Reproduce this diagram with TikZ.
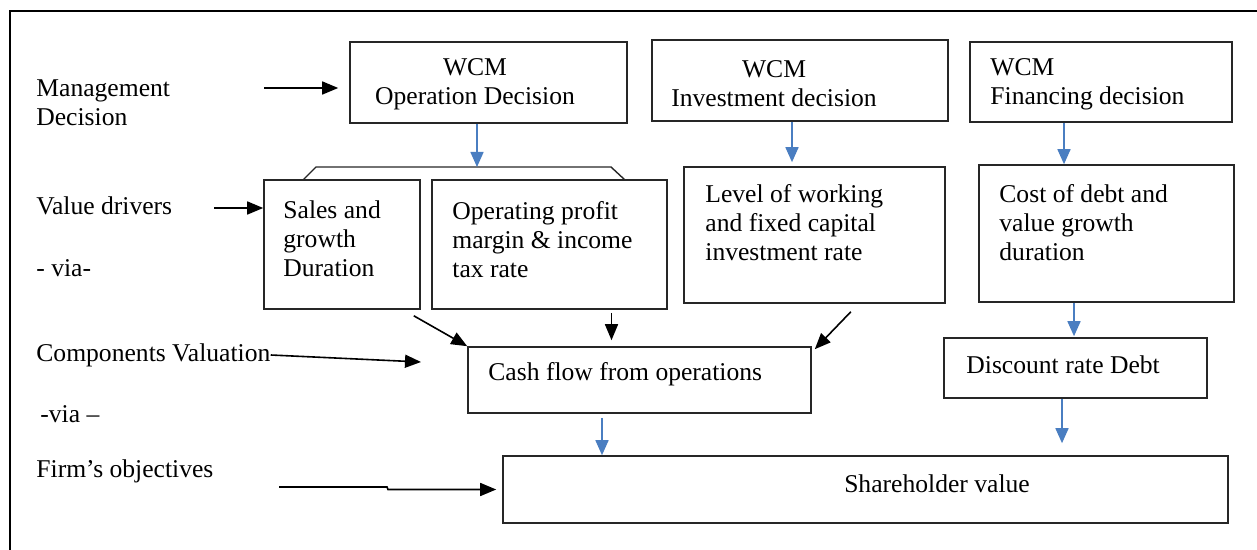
\documentclass[tikz,border=0pt]{standalone}
\usepackage{fontspec}
\setmainfont{Liberation Serif}
\usetikzlibrary{arrows.meta, calc, fit, positioning}

\definecolor{arrblue}{RGB}{74,126,193}

\begin{document}
\begin{tikzpicture}[
		x=0.5pt, y=-0.5pt,
		font=\fontsize{12.8}{14.5}\selectfont,
		frame/.style ={line width=1.4pt},
		blk/.style ={
			rectangle,	draw=black!85,	line width=0.8pt,	inner sep=0pt
		},
		txt/.style ={inner sep=0pt,	anchor=west,	align=left},
		ctxt/.style={inner sep=0pt,	align=center},
		arr/.style ={-{Triangle[length=8pt,width=6.5pt]},	line width=0.8pt},
		blarr/.style={-{Triangle[length=7.5pt,width=6.5pt]},	draw=arrblue,	line width=0.8pt},
		brk/.style ={draw=black!85,	line width=0.7pt},
	]

	\useasboundingbox (0,0) rectangle (1257,550);
	\draw [frame] (10,550) -- (10,11) -- (1257,11);

	% left column
	\node (mgmtT)  at (36,103) [txt] {Management\\Decision};
	\node (valT)   at (36,206) [txt] {Value drivers};
	\node (via1T)  at (36,268) [txt] {- via-};
	\node (compT)  at (36,355) [txt] {Components Valuation};
	\node (via2T)  at (40,414) [txt] {-via --};
	\node (firmT)  at (36,471) [txt] {Firm’s objectives};

	% boxes
	\node (opdec)     [blk, fit={(350,42) (627,123)}] {};
	\node (invdec)    [blk, fit={(652,40) (948,121)}] {};
	\node (findec)    [blk, fit={(970,42) (1232,122)}] {};
	\node (sales)     [blk, fit={(264,180) (420,309)}] {};
	\node (opprof)    [blk, fit={(432,180) (667,309)}] {};
	\node (level)     [blk, fit={(684,167) (945,303)}] {};
	\node (cost)      [blk, fit={(979,165) (1234,302)}] {};
	\node (cash)      [blk, fit={(468,347) (811,413)}] {};
	\node (disc)      [blk, fit={(944,338) (1207,398)}] {};
	\node (sharehold) [blk, fit={(503,456) (1228,523)}] {};

	% box texts
	\node (opdecT)  at (475,84)  [ctxt] {WCM\\Operation Decision};
	\node (invdecT) at (774,84)  [ctxt] {WCM\\Investment decision};
	\node (findecT) at (990,84)  [txt]  {WCM\\Financing decision};
	\node (salesT)  at (283,239) [txt]  {Sales and\\growth\\Duration};
	\node (opprofT) at (452,240) [txt]  {Operating profit\\margin \& income\\tax rate};
	\node (levelT)  at (705,223) [txt]  {Level of working\\and fixed capital\\investment rate};
	\node (costT)   at (999,223) [txt]  {Cost of debt and\\value growth\\duration};
	\node (cashT)   at (488,374) [txt]  {Cash flow from operations};
	\node (discT)   at (966,365) [txt]  {Discount rate Debt};
	\node (shareT)  at (937,484) [ctxt] {Shareholder value};

	% bracket over the value drivers
	\coordinate (brtop) at (477,167);
	\draw [brk] (303,180) -- (316,167) -- (611,167) -- (625,180);

	% black interconnections
	\coordinate (mgmtA) at (264,88);
	\draw [arr] (mgmtA) -- ($(opdec.west |- mgmtA)+(-11,0)$);
	\coordinate (valA) at (214,208);
	\draw [arr] (valA) -- (sales.west |- valA);
	\coordinate (compA) at (421,362);
	\draw [arr] (compT.east) -- (compA);
	\coordinate (firmA) at (279,487);
	\draw [arr] (firmA) -- ++(108,0) -- ++(1,2.5) -- ($(sharehold.west)+(-6,0)$);

	\draw [arr] ($(sales.south east)+(-7,6)$) -- (cash.north west);
	\draw [arr] ($(opprof.south)+(62,3)$) -- ($(cash.north)+(-28,-6)$);
	\draw [arr] ($(level.south east)+(-95,8)$) -- ($(cash.north east)+(3,3)$);

	% blue interconnections
	\draw [blarr] (opdec.south -| brtop) -- (brtop);
	\draw [blarr] ($(invdec.south)+(-8,0)$) -- ($(level.north)+(-22.5,-4)$);
	\draw [blarr] ($(findec.south)+(-37,0)$) -- ($(cost.north)+(-42.5,0)$);
	\draw [blarr] ($(cost.south)+(-32.5,0)$) -- ($(disc.north)+(-1.5,-1)$);
	\draw [blarr] ($(cash.south)+(-37.5,4)$) -- ($(sharehold.north)+(-263.5,0)$);
	\draw [blarr] ($(disc.south)+(-13.5,0)$) -- ($(sharehold.north)+(196.5,-12)$);

\end{tikzpicture}
\end{document}
